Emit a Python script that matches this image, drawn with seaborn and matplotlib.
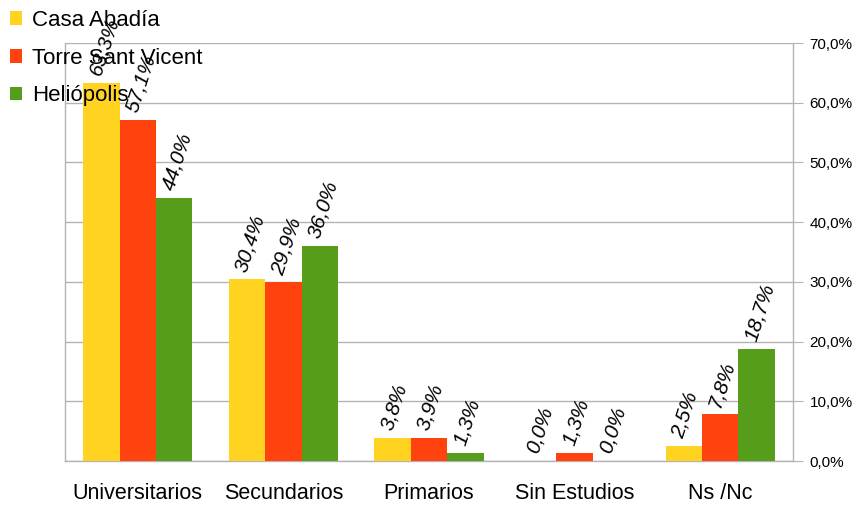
import numpy as np
import pandas as pd
import matplotlib.pyplot as plt
import matplotlib.ticker as mticker
from matplotlib.patches import Patch
import seaborn as sns

# datos
categorias = ["Universitarios", "Secundarios", "Primarios", "Sin Estudios", "Ns /Nc"]
casa_abadia = [63.3, 30.4, 3.8, 0.0, 2.5]
torre_sant_vicent = [57.1, 29.9, 3.9, 1.3, 7.8]
heliopolis = [44.0, 36.0, 1.3, 0.0, 18.7]
series = ["Casa Abadía", "Torre Sant Vicent", "Heliópolis"]
colores = ["#FFD320", "#FF420E", "#579D1C"]

df = pd.DataFrame({
    "categoria": categorias * 3,
    "serie": np.repeat(series, len(categorias)),
    "valor": casa_abadia + torre_sant_vicent + heliopolis,
})

sns.set_style("white")
plt.rcParams["font.family"] = ["Liberation Sans", "DejaVu Sans"]
plt.rcParams["text.color"] = "black"
plt.rcParams["xtick.color"] = "black"
plt.rcParams["ytick.color"] = "black"

fig = plt.figure(figsize=(8.56, 5.09), dpi=100)
ax = fig.add_axes([0.0759, 0.0943, 0.9264 - 0.0759, 0.9155 - 0.0943])

sns.barplot(data=df, x="categoria", y="valor", hue="serie", order=categorias,
            hue_order=series, palette=colores, width=0.75, saturation=1,
            linewidth=0, ax=ax, legend=False, zorder=3)

# etiquetas de valor giradas
for cont in ax.containers:
    for rect in cont:
        h = rect.get_height()
        x = rect.get_x() + rect.get_width() / 2
        txt = f"{h:.1f}%".replace(".", ",")
        ax.text(x - 0.04, h + 1.4, txt, rotation=72, rotation_mode="anchor",
                ha="left", va="center", fontsize=15, style="italic", zorder=5)

ax.set_ylim(0, 70)
ax.set_xlim(-0.5, len(categorias) - 0.5)
ax.yaxis.tick_right()
ax.yaxis.set_major_locator(mticker.MultipleLocator(10))
ax.yaxis.set_major_formatter(mticker.FuncFormatter(lambda v, p: f"{v:.1f}%".replace(".", ",")))
ax.tick_params(axis="y", length=7, color="#b3b3b3", labelcolor="black", pad=5,
               labelsize=11, right=True)
ax.grid(axis="y", color="#b3b3b3", linewidth=1, zorder=0)

ax.set_xlabel("")
ax.set_ylabel("")
ax.tick_params(axis="x", length=0, pad=16, labelsize=15.5, labelcolor="black")
ax.set_xticks(np.arange(-0.5, len(categorias)), minor=True)
ax.tick_params(axis="x", which="minor", length=7, color="#b3b3b3", width=1)

for lado in ["left", "right", "bottom"]:
    ax.spines[lado].set_color("#b3b3b3")
    ax.spines[lado].set_linewidth(1)
ax.spines["top"].set_visible(False)

handles = [Patch(facecolor=c, edgecolor="none") for c in colores]
fig.legend(handles, series, loc="upper left", bbox_to_anchor=(0.0, 1.0),
           frameon=False, fontsize=16, handlelength=0.55, handleheight=0.55,
           handletextpad=0.45, labelspacing=0.75, borderpad=0.0,
           borderaxespad=0.45)

fig.savefig("out.png", dpi=100)
